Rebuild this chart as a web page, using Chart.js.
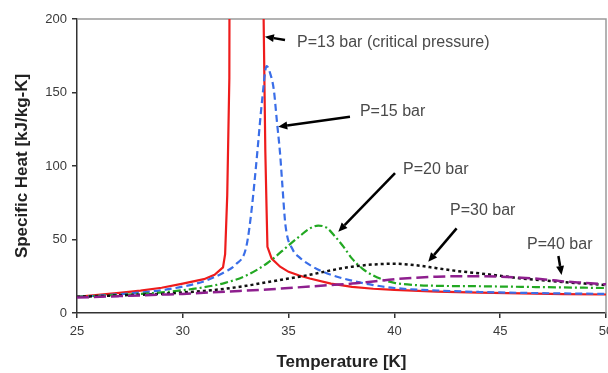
<!DOCTYPE html>
<html><head><meta charset="utf-8">
<script src="https://cdn.jsdelivr.net/npm/chart.js@4.4.1/dist/chart.umd.min.js"></script>
<style>html,body{margin:0;padding:0;overflow:hidden;background:#fff;width:608px;height:373px}canvas{display:block}</style>
</head><body>
<canvas id="c" width="640" height="373"></canvas>
<script>
// Tick labels
const xTicks = [25, 30, 35, 40, 45, 50];
const yTicks = [0, 50, 100, 150, 200];

// P = 13 bar (critical pressure)
const t13  = [25, 26, 27, 28, 29, 30, 31, 31.5, 31.9, 32.0, 32.1, 32.2, 32.25, 33.78, 33.82, 33.9, 33.96, 34.0, 34.2, 34.6, 35, 35.5, 36, 37, 38, 39, 40, 42, 44, 46, 48, 50];
const cp13 = [11, 12.3, 13.7, 15.2, 17.2, 20, 23, 26, 31, 40, 80, 160, 600, 600, 200, 110, 70, 45, 37, 31.5, 28, 25.5, 23.5, 20, 17.8, 16.5, 15.7, 14.6, 13.8, 13.3, 12.9, 12.6];

// P = 15 bar
const t15  = [25, 27, 29, 30, 31, 31.5, 32, 32.5, 33, 33.25, 33.5, 33.75, 33.96, 34.15, 34.3, 34.45, 34.6, 34.7, 34.85, 35.2, 35.5, 36.2, 37, 38, 39, 40, 42, 44, 46, 48, 50];
const cp15 = [11, 12.8, 15.5, 18, 21.5, 24.5, 28, 33, 45, 70, 106, 145, 168, 162, 152, 130, 108, 88, 60, 43, 38, 31, 26, 22, 19, 17, 15.3, 14.3, 13.7, 13.3, 13];

// P = 20 bar
const t20  = [25, 27, 29, 30, 31, 32, 33, 34, 35, 35.5, 36, 36.4, 36.8, 37.2, 37.6, 38, 38.5, 39, 39.5, 40, 41, 42, 44, 46, 48, 50];
const cp20 = [11, 12.3, 14, 15.5, 17.5, 20.5, 25.5, 34, 46, 52, 57.5, 59.5, 58, 52, 45, 37, 30, 25.5, 22.5, 20.5, 19, 18.5, 18.2, 17.8, 17.4, 17];

// P = 30 bar
const t30  = [25, 27, 29, 30, 31, 32, 33, 34, 35, 36, 37, 38, 39, 40, 41, 42, 43, 44, 45, 46, 47, 48, 49, 50];
const cp30 = [11, 12, 13, 14, 15, 16.5, 18.5, 21, 23.5, 26, 29, 31.5, 33, 33.5, 32.5, 30.5, 28.5, 27, 25.3, 23.5, 22.3, 21, 20, 19];

// P = 40 bar
const t40  = [25, 27, 29, 30, 32, 34, 35, 36, 37, 38, 39, 40, 41, 42, 43, 44, 45, 46, 47, 48, 49, 50];
const cp40 = [10.5, 11.5, 12.5, 13, 14.5, 16, 17, 18, 19, 20, 21.5, 23, 24, 24.7, 25, 25, 24.7, 24, 23, 21.5, 20.5, 19.5];

// Annotations (data coordinates)
const notes = [
  {text: 'P=13 bar (critical pressure)', at: [35.4, 183.7], from: [34.83, 185.7], to: [33.88, 188]},
  {text: 'P=15 bar', at: [38.37, 137], from: [37.9, 133.5], to: [34.51, 126.7]},
  {text: 'P=20 bar', at: [40.41, 97.3], from: [40.03, 95.2], to: [37.35, 55.3]},
  {text: 'P=30 bar', at: [42.63, 70], from: [42.94, 57.6], to: [41.6, 34.9]},
  {text: 'P=40 bar', at: [46.27, 46.3], from: [47.75, 38.8], to: [47.9, 25.9]}
];

const pts = (t, v) => t.map((x, i) => ({x: x, y: v[i]}));

const framePlugin = {
  id: 'frame',
  beforeDatasetsDraw(chart) {
    const {ctx, chartArea: a} = chart;
    ctx.save();
    ctx.strokeStyle = '#9a9a9a';
    ctx.lineWidth = 1.5;
    ctx.beginPath();
    ctx.moveTo(a.left, a.top);
    ctx.lineTo(a.right, a.top);
    ctx.lineTo(a.right, a.bottom);
    ctx.stroke();
    ctx.restore();
  }
};

const notePlugin = {
  id: 'notes',
  afterDatasetsDraw(chart) {
    const {ctx, scales: {x, y}} = chart;
    ctx.save();
    notes.forEach(n => {
      const fx = x.getPixelForValue(n.from[0]), fy = y.getPixelForValue(n.from[1]);
      const tx = x.getPixelForValue(n.to[0]), ty = y.getPixelForValue(n.to[1]);
      const ang = Math.atan2(ty - fy, tx - fx);
      const hl = 9, hw = 4;
      const bx = tx - hl * Math.cos(ang), by = ty - hl * Math.sin(ang);
      ctx.strokeStyle = '#000';
      ctx.fillStyle = '#000';
      ctx.lineWidth = 2.5;
      ctx.beginPath();
      ctx.moveTo(fx, fy);
      ctx.lineTo(bx, by);
      ctx.stroke();
      ctx.beginPath();
      ctx.moveTo(tx, ty);
      ctx.lineTo(bx + hw * Math.sin(ang), by - hw * Math.cos(ang));
      ctx.lineTo(bx - hw * Math.sin(ang), by + hw * Math.cos(ang));
      ctx.closePath();
      ctx.fill();
      ctx.fillStyle = '#4a4a4a';
      ctx.font = '16px Arial, "Liberation Sans", sans-serif';
      ctx.textBaseline = 'middle';
      ctx.textAlign = 'left';
      ctx.fillText(n.text, x.getPixelForValue(n.at[0]), y.getPixelForValue(n.at[1]));
    });
    ctx.restore();
  }
};

const common = {pointRadius: 0, fill: false, showLine: true};

new Chart(document.getElementById('c'), {
  type: 'scatter',
  data: {
    datasets: [
      Object.assign({label: 'P=40 bar', data: pts(t40, cp40), borderColor: '#8e1f8e', borderWidth: 2.5, borderDash: [12, 5], cubicInterpolationMode: 'monotone'}, common),
      Object.assign({label: 'P=30 bar', data: pts(t30, cp30), borderColor: '#111111', borderWidth: 2.5, borderDash: [3, 3], cubicInterpolationMode: 'monotone'}, common),
      Object.assign({label: 'P=20 bar', data: pts(t20, cp20), borderColor: '#22a822', borderWidth: 2.2, borderDash: [8, 3, 2, 3], cubicInterpolationMode: 'monotone'}, common),
      Object.assign({label: 'P=15 bar', data: pts(t15, cp15), borderColor: '#3a6ee8', borderWidth: 2.2, borderDash: [7, 4], cubicInterpolationMode: 'monotone'}, common),
      Object.assign({label: 'P=13 bar', data: pts(t13, cp13), borderColor: '#ee1c1c', borderWidth: 2.2}, common)
    ]
  },
  options: {
    responsive: false,
    animation: false,
    devicePixelRatio: 1,
    layout: {padding: {left: 0, right: 34, top: 19, bottom: 0}},
    plugins: {legend: {display: false}, tooltip: {enabled: false}},
    scales: {
      x: {
        type: 'linear', min: 25, max: 50,
        afterBuildTicks: s => { s.ticks = xTicks.map(v => ({value: v})); },
        afterFit: s => { s.height = 60; },
        grid: {drawOnChartArea: false, drawTicks: true, tickLength: 5, color: '#333', lineWidth: 1.5},
        border: {display: true, color: '#333', width: 1.5},
        ticks: {color: '#3a3a3a', font: {family: 'Arial, "Liberation Sans", sans-serif', size: 13}, padding: 6, maxRotation: 0},
        title: {display: true, text: 'Temperature [K]', color: '#222', font: {family: 'Arial, "Liberation Sans", sans-serif', size: 17, weight: 'bold'}, padding: {top: 0, bottom: 0}}
      },
      y: {
        min: 0, max: 200,
        afterBuildTicks: s => { s.ticks = yTicks.map(v => ({value: v})); },
        afterFit: s => { s.width = 77; },
        grid: {drawOnChartArea: false, drawTicks: true, tickLength: 5, color: '#333', lineWidth: 1.5},
        border: {display: true, color: '#333', width: 1.5},
        ticks: {color: '#3a3a3a', font: {family: 'Arial, "Liberation Sans", sans-serif', size: 13}, padding: 5},
        title: {display: true, text: 'Specific Heat [kJ/kg-K]', color: '#222', font: {family: 'Arial, "Liberation Sans", sans-serif', size: 17, weight: 'bold'}, padding: {top: 12, bottom: 0}}
      }
    }
  },
  plugins: [framePlugin, notePlugin]
});
</script>
</body></html>
